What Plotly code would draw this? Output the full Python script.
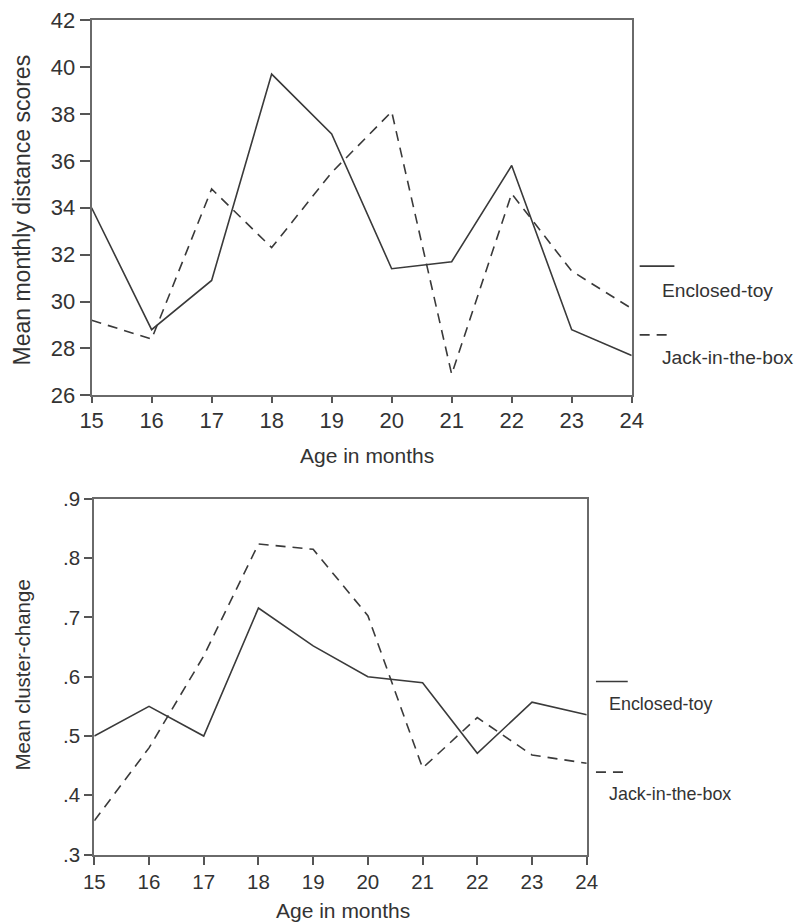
import plotly.graph_objects as go

months = [15, 16, 17, 18, 19, 20, 21, 22, 23, 24]

dist_enclosed = [34.0, 28.8, 30.9, 39.7, 37.15, 31.4, 31.7, 35.8, 28.8, 27.7]
dist_jack = [29.2, 28.4, 34.8, 32.3, 35.5, 38.1, 26.9, 34.6, 31.3, 29.7]

clus_enclosed = [0.50, 0.55, 0.50, 0.716, 0.652, 0.60, 0.59, 0.471, 0.557, 0.536]
clus_jack = [0.357, 0.48, 0.635, 0.824, 0.815, 0.703, 0.446, 0.531, 0.468, 0.454]

dist_ticks = [26, 28, 30, 32, 34, 36, 38, 40, 42]
clus_ticks = [0.3, 0.4, 0.5, 0.6, 0.7, 0.8, 0.9]
clus_ticktext = [".3", ".4", ".5", ".6", ".7", ".8", ".9"]

series_names = ["Enclosed-toy", "Jack-in-the-box"]
x_title = "Age in months"
y_titles = ["Mean monthly distance scores", "Mean cluster-change"]

LINE = "#3a3a3a"
TXT = "#333333"
FONT = "Liberation Sans, Arial, sans-serif"
DASH = "10px,7px"

# Page placement: the page keeps an 8px body margin and the capture is scaled by S,
# so target-picture pixels are mapped back to figure pixels.
S = 0.977
OFF = 8
W = round(797 / S - 2 * OFF)
H = round(922 / S - 2 * OFF)


def fx(p):
    return p / S - OFF


def px_x(p):
    return fx(p) / W


def px_y(p):
    return 1 - fx(p) / H


def fs(size):
    return round(size / S, 1)


fig = go.Figure()
fig.add_trace(go.Scatter(x=months, y=dist_enclosed, mode="lines", name=series_names[0],
                         line=dict(color=LINE, width=1.6, dash="solid"), xaxis="x", yaxis="y"))
fig.add_trace(go.Scatter(x=months, y=dist_jack, mode="lines", name=series_names[1],
                         line=dict(color=LINE, width=1.6, dash=DASH), xaxis="x", yaxis="y"))
fig.add_trace(go.Scatter(x=months, y=clus_enclosed, mode="lines", name=series_names[0],
                         line=dict(color=LINE, width=1.6, dash="solid"), xaxis="x2", yaxis="y2"))
fig.add_trace(go.Scatter(x=months, y=clus_jack, mode="lines", name=series_names[1],
                         line=dict(color=LINE, width=1.6, dash=DASH), xaxis="x2", yaxis="y2"))


def axis_style(size):
    return dict(showgrid=False, zeroline=False, showline=True, linecolor="#6a6a6a",
                linewidth=2, mirror=True, ticks="outside", tickcolor="#555555",
                tickwidth=1.5, tickfont=dict(family=FONT, size=fs(size), color=TXT))


fig.update_layout(
    width=W, height=H, autosize=False,
    margin=dict(l=0, r=0, t=0, b=0),
    paper_bgcolor="white", plot_bgcolor="white",
    showlegend=False,
    font=dict(family=FONT, color=TXT),
    xaxis=dict(domain=[px_x(88), px_x(632)], anchor="y", range=[15, 24],
               tickvals=months, ticklen=6, ticklabelstandoff=-2, **axis_style(21.5)),
    yaxis=dict(domain=[px_y(392.7), px_y(16)], anchor="x", range=[26, 42],
               tickvals=dist_ticks, ticklen=10, **axis_style(21.5)),
    xaxis2=dict(domain=[px_x(90.7), px_x(586.7)], anchor="y2", range=[15, 24],
                tickvals=months, ticklen=8, **axis_style(20)),
    yaxis2=dict(domain=[px_y(853.8), px_y(496.7)], anchor="x2", range=[0.3, 0.9],
                tickvals=clus_ticks, ticktext=clus_ticktext, ticklen=8, **axis_style(20)),
)


def add_text(x, y, text, size, angle=0, xanchor="center"):
    fig.add_annotation(xref="paper", yref="paper", x=px_x(x), y=px_y(y), text=text,
                       showarrow=False, xanchor=xanchor, yanchor="middle", textangle=angle,
                       font=dict(family=FONT, size=fs(size), color=TXT))


# Axis titles
add_text(365, 453, x_title, 20.5)
add_text(18, 207, y_titles[0], 22.5, angle=-90)
add_text(341, 910, x_title, 20.5)
add_text(18, 674, y_titles[1], 20, angle=-90)


# Legend-like keys beside each panel
def add_key(x0, x1, x1d, y_solid, y_dash, tx, ty1, ty2, size):
    fig.add_shape(type="line", xref="paper", yref="paper",
                  x0=px_x(x0), x1=px_x(x1), y0=px_y(y_solid), y1=px_y(y_solid),
                  line=dict(color=LINE, width=1.6))
    fig.add_shape(type="line", xref="paper", yref="paper",
                  x0=px_x(x0), x1=px_x(x1d), y0=px_y(y_dash), y1=px_y(y_dash),
                  line=dict(color=LINE, width=1.6, dash=DASH))
    add_text(tx, ty1, series_names[0], size, xanchor="left")
    add_text(tx, ty2, series_names[1], size, xanchor="left")


add_key(640, 675, 672, 263, 332, 660, 287, 355, 18.8)
add_key(596, 628, 626, 680, 771, 607, 703, 793, 17.5)

fig.write_html("out.html")
